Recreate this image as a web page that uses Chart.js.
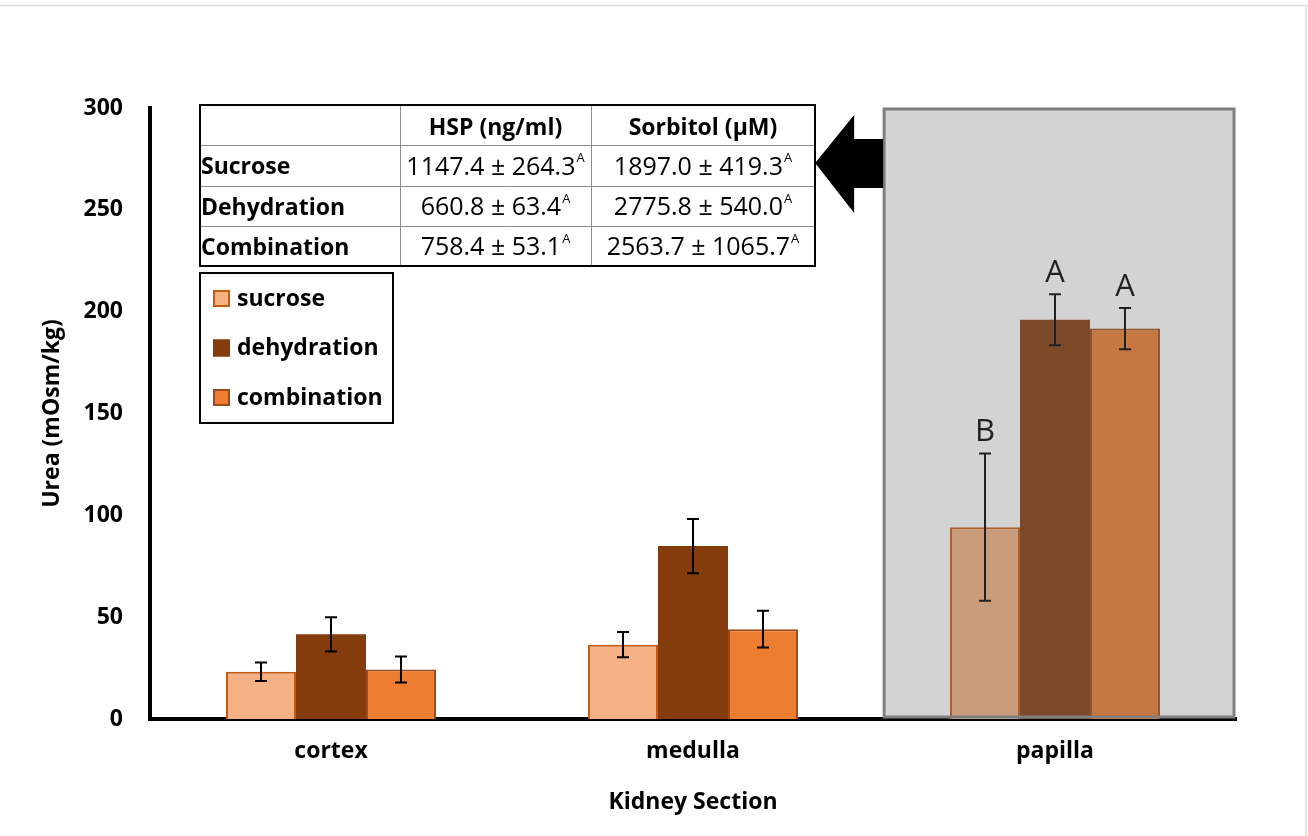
<!DOCTYPE html>
<html>
<head>
<meta charset="utf-8">
<script src="https://cdn.jsdelivr.net/npm/chart.js@4"></script>
<style>
  body { margin: 0; background: #fff; }
  #wrap { width: 1308px; height: 836px; }
</style>
</head>
<body>
<div id="wrap"><canvas id="canvasUrea" width="1308" height="836"></canvas></div>
<script>
// data
let sections = ['cortex', 'medulla', 'papilla'];
let sucrose = [23.2, 36.5, 94.2];
let sucroseErr = [4.6, 6.2, 36.2];
let dehydration = [41.6, 84.9, 196.0];
let dehydrationErr = [8.4, 13.3, 12.5];
let combination = [24.3, 44.1, 191.7];
let combinationErr = [6.4, 9.0, 10.1];
let sucroseLetters = ['', '', 'B'];
let dehydrationLetters = ['', '', 'A'];
let combinationLetters = ['', '', 'A'];
let yTicks = [0, 50, 100, 150, 200, 250, 300];

// inset table
let tableHeaders = ['HSP (ng/ml)', 'Sorbitol (µM)'];
let tableRows = ['Sucrose', 'Dehydration', 'Combination'];
let hspValues = ['1147.4 ± 264.3', '660.8 ± 63.4', '758.4 ± 53.1'];
let sorbitolValues = ['1897.0 ± 419.3', '2775.8 ± 540.0', '2563.7 ± 1065.7'];
let hspLetters = ['A', 'A', 'A'];
let sorbitolLetters = ['A', 'A', 'A'];

const FONT = "'Open Sans', 'DejaVu Sans', sans-serif";

const errors = [sucroseErr, dehydrationErr, combinationErr];
const letters = [sucroseLetters, dehydrationLetters, combinationLetters];

// error bars + letters, then the grey papilla box, arrow, table and legend
const extras = {
    id: 'extras',
    beforeDraw(chart) {
        const ctx = chart.ctx;
        ctx.save();
        ctx.strokeStyle = '#d9d9d9';
        ctx.lineWidth = 1.5;
        ctx.beginPath();
        ctx.moveTo(0, 5.5);
        ctx.lineTo(1306, 5.5);
        ctx.lineTo(1306, 836);
        ctx.stroke();
        ctx.restore();
    },
    afterDatasetsDraw(chart) {
        const ctx = chart.ctx;
        const y = chart.scales.y;
        const x = chart.scales.x;
        const area = chart.chartArea;
        ctx.save();
        chart.data.datasets.forEach((ds, i) => {
            const meta = chart.getDatasetMeta(i);
            meta.data.forEach((bar, j) => {
                const v = ds.data[j];
                const e = errors[i][j];
                const top = y.getPixelForValue(v + e);
                const bot = y.getPixelForValue(v - e);
                ctx.strokeStyle = '#000';
                ctx.lineWidth = 2;
                ctx.beginPath();
                ctx.moveTo(bar.x, top); ctx.lineTo(bar.x, bot);
                ctx.moveTo(bar.x - 6, top); ctx.lineTo(bar.x + 6, top);
                ctx.moveTo(bar.x - 6, bot); ctx.lineTo(bar.x + 6, bot);
                ctx.stroke();
                if (letters[i][j]) {
                    ctx.fillStyle = '#000';
                    ctx.font = '31px ' + FONT;
                    ctx.textAlign = 'center';
                    ctx.textBaseline = 'alphabetic';
                    ctx.fillText(letters[i][j], bar.x, top - 12);
                }
            });
        });

        // grey box over papilla
        const cw = x.getPixelForValue(1) - x.getPixelForValue(0);
        const bx = x.getPixelForValue(2) - 0.472 * cw;
        const by = y.getPixelForValue(300) + 1;
        const br = area.right - 2;
        const bb = y.getPixelForValue(0) - 2;
        ctx.fillStyle = 'rgba(109,108,109,0.3)';
        ctx.fillRect(bx, by, br - bx, bb - by);
        ctx.strokeStyle = '#7f7f7f';
        ctx.lineWidth = 3;
        ctx.strokeRect(bx, by, br - bx, bb - by);

        // arrow to the table
        ctx.fillStyle = '#000';
        ctx.beginPath();
        ctx.moveTo(bx - 1, by + 30);
        ctx.lineTo(bx - 30, by + 30);
        ctx.lineTo(bx - 30, by + 6);
        ctx.lineTo(bx - 69, by + 54);
        ctx.lineTo(bx - 30, by + 104);
        ctx.lineTo(bx - 30, by + 79);
        ctx.lineTo(bx - 1, by + 79);
        ctx.closePath();
        ctx.fill();
        ctx.restore();
    },
    afterDraw(chart) {
        const ctx = chart.ctx;
        ctx.save();
        // table
        const colX = [200, 400, 591, 815];
        const rowY = [105, 145, 186, 226, 266];
        ctx.fillStyle = '#fff';
        ctx.fillRect(colX[0], rowY[0], colX[3] - colX[0], rowY[4] - rowY[0]);
        ctx.strokeStyle = '#8c8c8c';
        ctx.lineWidth = 1;
        ctx.beginPath();
        for (let r = 1; r < 4; r++) { ctx.moveTo(colX[0], rowY[r] + 0.5); ctx.lineTo(colX[3], rowY[r] + 0.5); }
        for (let c = 1; c < 3; c++) { ctx.moveTo(colX[c] + 0.5, rowY[0]); ctx.lineTo(colX[c] + 0.5, rowY[4]); }
        ctx.stroke();
        ctx.strokeStyle = '#000';
        ctx.lineWidth = 2;
        ctx.strokeRect(colX[0], rowY[0], colX[3] - colX[0], rowY[4] - rowY[0]);

        ctx.fillStyle = '#000';
        ctx.textBaseline = 'middle';
        ctx.font = 'bold 23px ' + FONT;
        ctx.textAlign = 'center';
        tableHeaders.forEach((h, c) => {
            ctx.fillText(h, (colX[c + 1] + colX[c + 2]) / 2, (rowY[0] + rowY[1]) / 2 + 3);
        });
        ctx.textAlign = 'left';
        tableRows.forEach((name, r) => {
            ctx.fillText(name, colX[0] + 1, (rowY[r + 1] + rowY[r + 2]) / 2 + 2);
        });
        const cols = [[hspValues, hspLetters], [sorbitolValues, sorbitolLetters]];
        cols.forEach(([vals, sup], c) => {
            vals.forEach((txt, r) => {
                ctx.font = '25px ' + FONT;
                const w1 = ctx.measureText(txt).width;
                ctx.font = '13px ' + FONT;
                const w2 = ctx.measureText(sup[r]).width;
                const cx = (colX[c + 1] + colX[c + 2]) / 2;
                const sx = cx - (w1 + w2 + 1) / 2;
                const cy = (rowY[r + 1] + rowY[r + 2]) / 2 + 2;
                ctx.font = '25px ' + FONT;
                ctx.textAlign = 'left';
                ctx.textBaseline = 'middle';
                ctx.fillText(txt, sx, cy);
                ctx.font = '13px ' + FONT;
                ctx.fillText(sup[r], sx + w1 + 1, cy - 9);
            });
        });

        // legend
        ctx.fillStyle = '#fff';
        ctx.fillRect(200, 273, 193, 150);
        ctx.strokeStyle = '#000';
        ctx.lineWidth = 2;
        ctx.strokeRect(200, 273, 193, 150);
        chart.data.datasets.forEach((ds, i) => {
            const cy = 298 + i * 49.5;
            ctx.fillStyle = ds.backgroundColor;
            ctx.fillRect(213, cy - 8, 17, 17);
            ctx.strokeStyle = ds.borderColor;
            ctx.lineWidth = 2;
            ctx.strokeRect(214, cy - 7, 15, 15);
            ctx.fillStyle = '#000';
            ctx.font = 'bold 23px ' + FONT;
            ctx.textAlign = 'left';
            ctx.textBaseline = 'middle';
            ctx.fillText(ds.label, 237, cy + 1);
        });
        ctx.restore();
    }
};

let canvasUrea = document.querySelector('#canvasUrea');
let chartUrea = new Chart(canvasUrea, {
    type: 'bar',
    data: {
        labels: sections,
        datasets: [
            { label: 'sucrose', data: sucrose, backgroundColor: '#F4B183', borderColor: '#C55A11', borderWidth: 2 },
            { label: 'dehydration', data: dehydration, backgroundColor: '#843C0C', borderColor: '#843C0C', borderWidth: 0 },
            { label: 'combination', data: combination, backgroundColor: '#ED7D31', borderColor: '#9E4A16', borderWidth: 2 }
        ]
    },
    options: {
        responsive: false,
        animation: false,
        devicePixelRatio: 1,
        layout: { padding: { left: 0, top: 108, right: 72, bottom: 0 } },
        datasets: { bar: { categoryPercentage: 0.58, barPercentage: 1.0 } },
        plugins: {
            legend: { display: false },
            tooltip: { enabled: false }
        },
        scales: {
            x: {
                grid: { display: false, drawTicks: false },
                border: { display: true, color: '#000', width: 4 },
                ticks: { color: '#000', font: { family: FONT, size: 23, weight: 'bold' }, padding: 19 },
                title: { display: true, text: 'Kidney Section', color: '#000',
                         font: { family: FONT, size: 23, weight: 'bold' }, padding: { top: 0, bottom: 20 } },
                afterFit: s => { s.height = 117; }
            },
            y: {
                min: 0,
                max: 300,
                afterBuildTicks: s => { s.ticks = yTicks.map(v => ({ value: v })); },
                grid: { display: false, drawTicks: false },
                border: { display: true, color: '#000', width: 4 },
                ticks: { color: '#000', font: { family: FONT, size: 23, weight: 'bold' }, padding: 27 },
                title: { display: true, text: 'Urea (mOsm/kg)', color: '#000',
                         font: { family: FONT, size: 23, weight: 'bold' }, padding: { top: 39, bottom: 0 } },
                afterFit: s => { s.width = 150; }
            }
        }
    },
    plugins: [extras]
});
</script>
</body>
</html>
